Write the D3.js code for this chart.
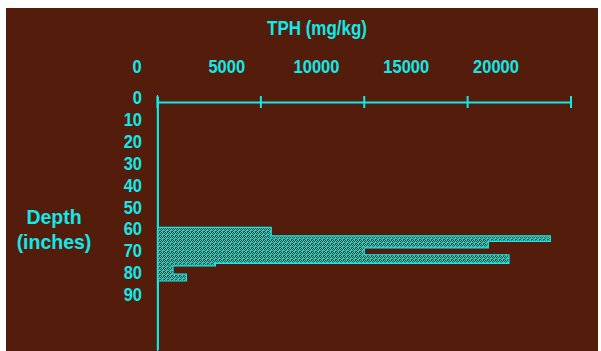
<!DOCTYPE html>
<html><head><meta charset="utf-8">
<script src="https://cdn.jsdelivr.net/npm/d3@7/dist/d3.min.js"></script>
<style>body{margin:0;background:#fff}</style>
</head><body>
<script>
// Data: TPH step profile by depth interval (inches)
const depthTop    = [0,  59.3, 63.2, 65.7, 68.7, 71.8, 75.7, 76.9, 80.6, 83.8];
const depthBottom = [59.3, 63.2, 65.7, 68.7, 71.8, 75.7, 76.9, 80.6, 83.8, 115];
const tph         = [40, 5500, 19000, 16000, 10000, 17000, 2800, 750, 1400, 40];
const xTickValues = [0, 5000, 10000, 15000, 20000];
const yTickValues = [0, 10, 20, 30, 40, 50, 60, 70, 80, 90];
const xTitle = "TPH (mg/kg)";
const yTitle = ["Depth", "(inches)"];

const W = 601, H = 351;
const bg = "#541d0b", cyan = "#10eaea";
const svg = d3.select("body").append("svg").attr("width", W).attr("height", H);
svg.append("rect").attr("x",6).attr("y",8).attr("width",592).attr("height",343).attr("fill",bg);

const defs = svg.append("defs");
const pat = defs.append("pattern").attr("id","stip").attr("patternUnits","userSpaceOnUse")
  .attr("width",4).attr("height",4);
pat.append("rect").attr("width",4).attr("height",4).attr("fill","#40402e");
[[0,0],[2,0],[1,1],[3,1],[0,2],[3,2],[1,3],[2,3],[2,2]].forEach(([a,b])=>
  pat.append("rect").attr("x",a).attr("y",b).attr("width",1).attr("height",1).attr("fill","#2ad4cf"));

const x = d3.scaleLinear().domain([0,20000]).range([157.5,571]);
const xLab = d3.scaleLinear().domain([0,20000]).range([137,496]);
const y = d3.scaleLinear().domain([0,100]).range([97.5,316.5]);
const axisY = 102;

// Filled step area
const pts = [];
depthTop.forEach((d,i)=>{ pts.push([tph[i], d]); pts.push([tph[i], depthBottom[i]]); });
const area = d3.area().x0(x(0)).x1(p=>x(p[0])).y(p=>y(p[1]));
svg.append("path").datum(pts).attr("d", area)
  .attr("fill","url(#stip)").attr("stroke",cyan).attr("stroke-width",1.2);

// vertical axis line
svg.append("line").attr("x1",x(0)).attr("x2",x(0)).attr("y1",95).attr("y2",H)
  .attr("stroke",cyan).attr("stroke-width",1.2);

// top axis with ticks
const xAxis = d3.axisTop(x).tickValues(xTickValues).tickSize(0).tickFormat("");
const gx = svg.append("g").attr("transform",`translate(0,${axisY})`).call(xAxis);
gx.select(".domain").attr("stroke",cyan).attr("stroke-width",2);
svg.selectAll(".tk").data(xTickValues).join("line")
  .attr("x1",d=>x(d)).attr("x2",d=>x(d)).attr("y1",axisY-6).attr("y2",axisY+6)
  .attr("stroke",cyan).attr("stroke-width",2);

const font = "Liberation Sans, Arial, sans-serif";
function txt(tx, ty, s, size, anchor, sy){
  svg.append("text").attr("transform",`translate(${tx},${ty}) scale(1,${sy})`)
    .attr("text-anchor",anchor).attr("font-family",font).attr("font-weight","bold")
    .attr("font-size",size).attr("fill",cyan).text(s);
}
xTickValues.forEach(d=>txt(xLab(d), 72.5, d, 16.5, "middle", 1.12));
yTickValues.forEach(d=>txt(142, y(d)+6.5, d, 16.5, "end", 1.1));
txt(317, 34.5, xTitle, 17, "middle", 1.15);
yTitle.forEach((t,i)=>txt(54, 223.5+i*25.5, t, 19.5, "middle", 1.05));
</script>
</body></html>
